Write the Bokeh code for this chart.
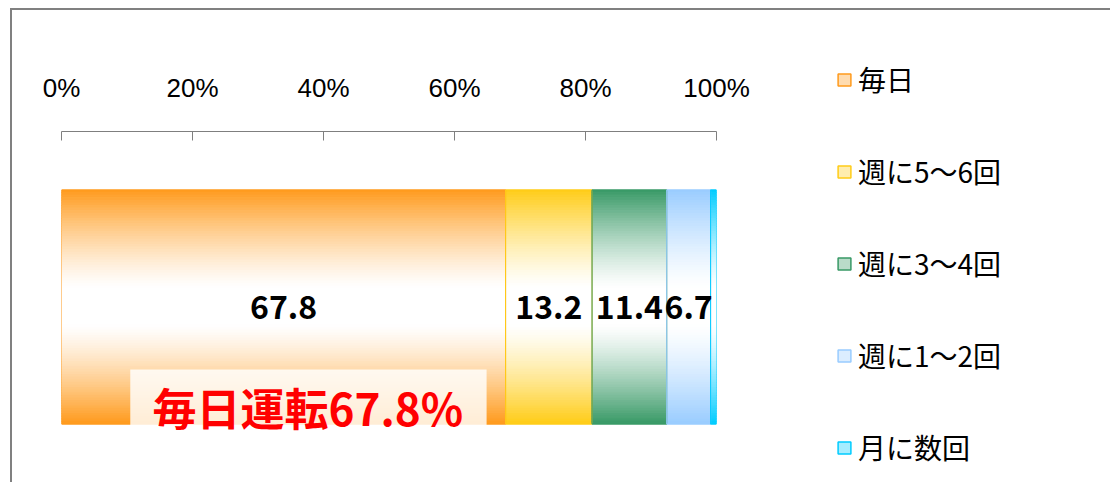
import numpy as np
from bokeh.plotting import figure
from bokeh.models import (FixedTicker, Range1d, Legend, LegendItem,
                          ColumnDataSource, BoxAnnotation, Label)
from bokeh.embed import file_html
from bokeh.resources import INLINE
from bokeh.core.properties import value

# ---------------- data ----------------
categories = ["毎日", "週に5〜6回", "週に3〜4回", "週に1〜2回", "月に数回"]
values = [67.8, 13.2, 11.4, 6.7, 0.9]
colors = ["#FF9A1C", "#FFCC17", "#389966", "#99CCFF", "#00CCFF"]
tick_values = [0, 20, 40, 60, 80, 100]
tick_labels = ["0%", "20%", "40%", "60%", "80%", "100%"]
annotation_text = "毎日運転67.8%"

JP = "Noto Sans CJK JP"


def hex_rgb(h):
    h = h.lstrip("#")
    return np.array([int(h[i:i + 2], 16) for i in (0, 2, 4)], dtype=float)


def mix(c, f):
    rgb = 255 + (hex_rgb(c) - 255) * f
    return "#%02x%02x%02x" % tuple(int(round(v)) for v in rgb)


vals = np.array(values)
ends = np.cumsum(vals)
starts = ends - vals

p = figure(frame_width=655, frame_height=351,
           x_range=Range1d(0, 100), y_range=Range1d(-1, 1),
           x_axis_location="above", y_axis_location=None,
           output_backend="svg", toolbar_location=None,
           min_border_left=49, min_border_right=384,
           min_border_top=121, min_border_bottom=0)
p.styles = {"border-left": "2px solid #808080", "border-top": "2px solid #808080"}
p.margin = (8, 0, 0, 10)
p.xgrid.visible = False
p.ygrid.visible = False
p.outline_line_color = None
p.background_fill_color = "white"
p.border_fill_color = "white"

# ---------------- gradient bar segments ----------------
bar_h = 4.0 / 3.0
N = 90
edges = np.linspace(bar_h / 2, -bar_h / 2, N + 1)
t = (np.arange(N) + 0.5) / N
w = np.abs(t - 0.5) / 0.5
fac = np.clip((w - 0.15) / 0.85, 0, 1) ** 1.3

L, R, T, B, C = [], [], [], [], []
for i in range(len(values)):
    for k in range(N):
        L.append(starts[i]); R.append(ends[i])
        T.append(edges[k]); B.append(edges[k + 1])
        C.append(mix(colors[i], fac[k]))
p.quad(source=ColumnDataSource(dict(left=L, right=R, top=T, bottom=B, color=C)),
       left="left", right="right", top="top", bottom="bottom",
       fill_color="color", line_color="color", line_width=1.2)

# segment outlines
p.quad(left=list(starts), right=list(ends), top=bar_h / 2, bottom=-bar_h / 2,
       fill_color=None, line_color=colors, line_width=1)

# value labels
lab_x = [s + v / 2 for s, v in zip(starts, values) if v >= 5]
lab_t = ["%.1f" % v for v in values if v >= 5]
p.text(x=lab_x, y=[0] * len(lab_x), text=lab_t,
       text_font=value(JP), text_font_style="bold", text_font_size="32px",
       text_color="black", text_align="center", text_baseline="middle")

# annotation box + text
box = BoxAnnotation(left=10.5, right=64.9, top=-0.356, bottom=-0.76,
                    fill_color="white", fill_alpha=0.82, line_color=None)
p.add_layout(box)
p.add_layout(Label(x=37.6, y=-0.57, text=annotation_text, text_color="#FF0000",
                   text_font=JP, text_font_style="bold", text_font_size="44px",
                   text_align="center", text_baseline="middle"))

# ---------------- axis ----------------
ax = p.xaxis[0]
ax.ticker = FixedTicker(ticks=tick_values)
ax.major_label_overrides = {v: l for v, l in zip(tick_values, tick_labels)}
ax.minor_tick_line_color = None
ax.major_tick_in = 9
ax.major_tick_out = 0
ax.axis_line_color = "#7f7f7f"
ax.major_tick_line_color = "#7f7f7f"
ax.major_label_text_font = "Liberation Sans"
ax.major_label_text_font_size = "26px"
ax.major_label_text_color = "black"
ax.major_label_standoff = 29

# ---------------- legend ----------------
leg_src = ColumnDataSource(dict(left=list(starts), right=list(ends),
                                top=[bar_h / 2] * len(values), bottom=[-bar_h / 2] * len(values),
                                fill=[mix(c, 0.35) for c in colors], line=colors))
leg_r = p.quad(source=leg_src, left="left", right="right", top="top", bottom="bottom",
               fill_color="fill", line_color="line", line_width=1.5)
leg_r.visible = False
items = [LegendItem(label=cat, renderers=[leg_r], index=i)
         for i, cat in enumerate(categories)]

legend = Legend(items=items, location=(120, 15),
                label_text_font=JP, label_text_font_size="28px",
                label_text_color="black", label_height=24,
                glyph_height=15, glyph_width=16, label_standoff=6,
                spacing=52, padding=0, margin=0,
                inactive_fill_alpha=0,
                border_line_color=None, background_fill_alpha=0)
p.add_layout(legend, "right")

open("out.html", "w").write(file_html(p, INLINE))
